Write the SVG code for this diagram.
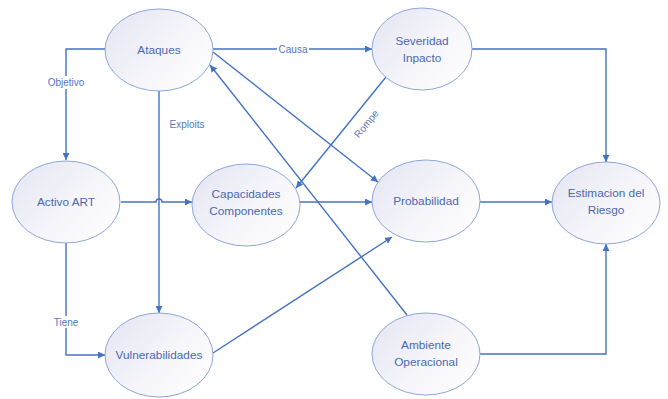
<svg xmlns="http://www.w3.org/2000/svg" width="668" height="399" viewBox="0 0 668 399">
  <defs>
    <linearGradient id="nodeFill" x1="0" y1="0.2" x2="1" y2="0.9">
      <stop offset="0" stop-color="#e6e7f3"/>
      <stop offset="0.6" stop-color="#f7f7fb"/>
      <stop offset="1" stop-color="#ffffff"/>
    </linearGradient>
    <marker id="arrow" viewBox="0 0 10 10" refX="10" refY="5" markerWidth="7" markerHeight="7" markerUnits="userSpaceOnUse" orient="auto">
      <path d="M0,0 L10,5 L0,10 z" fill="#4472c4"/>
    </marker>
  </defs>
  <style>
    .node ellipse { fill: url(#nodeFill); stroke: #8ea6da; stroke-width: 1; }
    .node text { font-family: "Liberation Sans", Arial, sans-serif; font-size: 11.8px; fill: #4a68b0; text-anchor: middle; }
    .edge { fill: none; stroke: #4472c4; stroke-width: 1.4; }
    .lbl { font-family: "Liberation Sans", Arial, sans-serif; font-size: 10px; fill: #5675bd; text-anchor: middle; }
    .lblbg { fill: #ffffff; }
  </style>
  <rect width="668" height="399" fill="#ffffff"/>

  <g id="connectors">
    <!-- Ataques -> Activo ART (Objetivo) -->
    <path class="edge" d="M105,49 H66 V160" marker-end="url(#arrow)"/>
    <rect class="lblbg" x="45" y="76" width="42" height="13"/>
    <text class="lbl" x="66" y="86">Objetivo</text>
    <!-- Ataques -> Severidad Impacto (Causa) -->
    <path class="edge" d="M213,49 H372" marker-end="url(#arrow)"/>
    <rect class="lblbg" x="277" y="43" width="32" height="12"/>
    <text class="lbl" x="293" y="52.5">Causa</text>
    <!-- Ataques -> Vulnerabilidades (Exploits) -->
    <path class="edge" d="M159,91 V313" marker-end="url(#arrow)"/>
    <text class="lbl" x="187" y="128">Exploits</text>
    <!-- Ataques -> Probabilidad -->
    <path class="edge" d="M213,52 L378,182" marker-end="url(#arrow)"/>
    <!-- Ambiente Operacional -> Ataques -->
    <path class="edge" d="M407,315 L210,65" marker-end="url(#arrow)"/>
    <!-- Severidad Impacto -> Capacidades Componentes (Rompe) -->
    <path class="edge" d="M386,77 L296,188" marker-end="url(#arrow)"/>
    <text class="lbl" x="369" y="126" transform="rotate(-51 369 126)">Rompe</text>
    <!-- Activo ART -> Capacidades Componentes, hopping over the Exploits line -->
    <path class="edge" d="M121,202 H156 A3,3 0 0 1 162,202 H192" marker-end="url(#arrow)"/>
    <!-- Capacidades Componentes -> Probabilidad -->
    <path class="edge" d="M300,202 H372" marker-end="url(#arrow)"/>
    <!-- Activo ART -> Vulnerabilidades (Tiene) -->
    <path class="edge" d="M66,243 V355 H105" marker-end="url(#arrow)"/>
    <rect class="lblbg" x="52" y="316" width="28" height="12"/>
    <text class="lbl" x="66" y="325.5">Tiene</text>
    <!-- Vulnerabilidades -> Probabilidad -->
    <path class="edge" d="M213,353 L392,237" marker-end="url(#arrow)"/>
    <!-- Probabilidad -> Estimacion del Riesgo -->
    <path class="edge" d="M480,202 H552" marker-end="url(#arrow)"/>
    <!-- Severidad Impacto -> Estimacion del Riesgo -->
    <path class="edge" d="M472,49 H606 V162" marker-end="url(#arrow)"/>
    <!-- Ambiente Operacional -> Estimacion del Riesgo -->
    <path class="edge" d="M480,354 H606 V244" marker-end="url(#arrow)"/>
  </g>

  <g id="ataques" class="node">
    <ellipse cx="159" cy="50" rx="54" ry="41"/>
    <text x="159" y="54">Ataques</text>
  </g>
  <g id="severidad-impacto" class="node">
    <ellipse cx="422" cy="49" rx="50" ry="41"/>
    <text x="422" y="45">Severidad</text>
    <text x="422" y="62">Inpacto</text>
  </g>
  <g id="activo-art" class="node">
    <ellipse cx="66" cy="202" rx="54" ry="41"/>
    <text x="66" y="206">Activo ART</text>
  </g>
  <g id="capacidades-componentes" class="node">
    <ellipse cx="246" cy="205" rx="54" ry="41"/>
    <text x="246" y="198">Capacidades</text>
    <text x="246" y="215">Componentes</text>
  </g>
  <g id="probabilidad" class="node">
    <ellipse cx="426" cy="201" rx="54" ry="41"/>
    <text x="426" y="205">Probabilidad</text>
  </g>
  <g id="estimacion-riesgo" class="node">
    <ellipse cx="606" cy="203" rx="54" ry="41"/>
    <text x="606" y="197">Estimacion del</text>
    <text x="606" y="214">Riesgo</text>
  </g>
  <g id="vulnerabilidades" class="node">
    <ellipse cx="159" cy="355" rx="54" ry="42"/>
    <text x="159" y="359">Vulnerabilidades</text>
  </g>
  <g id="ambiente-operacional" class="node">
    <ellipse cx="426" cy="354" rx="54" ry="41"/>
    <text x="426" y="349">Ambiente</text>
    <text x="426" y="366">Operacional</text>
  </g>
</svg>
